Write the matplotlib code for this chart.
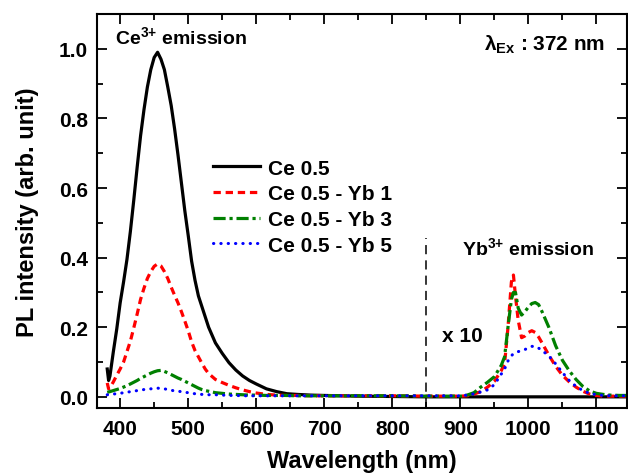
import numpy as np
import matplotlib
matplotlib.use("Agg")
import matplotlib.pyplot as plt
from matplotlib.ticker import MultipleLocator, FormatStrFormatter

plt.rcParams['font.family'] = ['Liberation Sans', 'DejaVu Sans']
plt.rcParams['font.weight'] = 'bold'
plt.rcParams['mathtext.fontset'] = 'custom'
plt.rcParams['mathtext.rm'] = 'Liberation Sans:bold'
plt.rcParams['mathtext.bf'] = 'Liberation Sans:bold'
plt.rcParams['mathtext.it'] = 'Liberation Sans:bold'

# visible part (Ce3+ band), wavelength in nm
wl_vis = [381, 383, 385, 390, 395, 400, 405, 410, 415, 420,
          425, 430, 435, 440, 445, 450, 455, 460, 465, 470,
          475, 480, 485, 490, 495, 500, 505, 510, 515, 520,
          525, 530, 540, 550, 560, 570, 580, 590, 600, 615,
          630, 645, 660, 680, 700, 750, 800, 850, 900]

ce05_vis = [0.08, 0.047, 0.06, 0.13, 0.195, 0.27, 0.33, 0.395, 0.475, 0.565,
            0.66, 0.75, 0.825, 0.89, 0.94, 0.975, 0.99, 0.97, 0.94, 0.89,
            0.837, 0.77, 0.695, 0.615, 0.535, 0.464, 0.39, 0.335, 0.29, 0.26,
            0.23, 0.20, 0.155, 0.125, 0.098, 0.077, 0.06, 0.047, 0.037, 0.023,
            0.015, 0.009, 0.007, 0.005, 0.004, 0.002, 0.001, 0.0, 0.0]

yb1_vis = [0.04, 0.023, 0.026, 0.043, 0.062, 0.08, 0.10, 0.13, 0.16, 0.198,
           0.238, 0.28, 0.312, 0.34, 0.36, 0.375, 0.382, 0.376, 0.36, 0.34,
           0.315, 0.292, 0.27, 0.245, 0.218, 0.19, 0.158, 0.133, 0.115, 0.097,
           0.08, 0.067, 0.05, 0.041, 0.033, 0.026, 0.02, 0.015, 0.011, 0.007,
           0.005, 0.004, 0.004, 0.003, 0.003, 0.003, 0.003, 0.002, 0.002]

yb3_vis = [0.013, 0.014, 0.015, 0.018, 0.021, 0.024, 0.028, 0.032, 0.037, 0.042,
           0.047, 0.053, 0.058, 0.063, 0.068, 0.072, 0.075, 0.076, 0.073, 0.069,
           0.064, 0.059, 0.054, 0.05, 0.045, 0.04, 0.035, 0.03, 0.025, 0.021,
           0.018, 0.016, 0.012, 0.010, 0.008, 0.007, 0.006, 0.005, 0.005, 0.004,
           0.004, 0.004, 0.003, 0.003, 0.003, 0.003, 0.003, 0.002, 0.002]

yb5_vis = [0.006, 0.006, 0.007, 0.008, 0.009, 0.010, 0.012, 0.013, 0.015, 0.016,
           0.018, 0.019, 0.021, 0.022, 0.023, 0.024, 0.025, 0.024, 0.023, 0.021,
           0.019, 0.017, 0.016, 0.015, 0.013, 0.012, 0.010, 0.009, 0.008, 0.007,
           0.007, 0.006, 0.006, 0.005, 0.004, 0.004, 0.003, 0.003, 0.003, 0.003,
           0.003, 0.003, 0.003, 0.003, 0.003, 0.003, 0.003, 0.003, 0.003]

# NIR part (Yb3+ band, shown x10)
wl_nir = [910, 920, 930, 940, 950, 960, 965, 970, 975, 978,
          981, 985, 990, 995, 1000, 1005, 1010, 1015, 1020, 1030,
          1040, 1050, 1060, 1070, 1080, 1090, 1100, 1110, 1120, 1135,
          1150]

ce05_nir = [0.0] * 31

yb1_nir = [0.003, 0.008, 0.015, 0.028, 0.045, 0.075, 0.095, 0.20, 0.33, 0.35,
           0.29, 0.22, 0.17, 0.175, 0.185, 0.19, 0.185, 0.172, 0.155, 0.12,
           0.088, 0.062, 0.043, 0.028, 0.016, 0.008, 0.004, 0.002, 0.002, 0.002,
           0.002]

yb3_nir = [0.005, 0.012, 0.028, 0.042, 0.058, 0.09, 0.115, 0.20, 0.28, 0.30,
           0.30, 0.255, 0.235, 0.245, 0.258, 0.268, 0.271, 0.265, 0.245, 0.20,
           0.147, 0.105, 0.075, 0.05, 0.03, 0.017, 0.01, 0.007, 0.005, 0.004,
           0.004]

yb5_nir = [0.005, 0.009, 0.014, 0.02, 0.035, 0.065, 0.08, 0.103, 0.118, 0.124,
           0.127, 0.13, 0.132, 0.136, 0.141, 0.145, 0.145, 0.14, 0.133, 0.118,
           0.095, 0.07, 0.047, 0.03, 0.018, 0.01, 0.006, 0.004, 0.003, 0.003,
           0.003]

labels = ['Ce 0.5', 'Ce 0.5 - Yb 1', 'Ce 0.5 - Yb 3', 'Ce 0.5 - Yb 5']

wl = wl_vis + wl_nir
series = [ce05_vis + ce05_nir, yb1_vis + yb1_nir, yb3_vis + yb3_nir, yb5_vis + yb5_nir]
styles = [
    dict(color='black', lw=2.3, ls='-'),
    dict(color='red', lw=2.3, ls=(0, (2.3, 1.5))),
    dict(color='green', lw=2.3, ls=(0, (3.8, 1.2, 1.0, 1.2))),
    dict(color='blue', lw=2.2, ls=(0, (0.1, 2.3)), dash_capstyle='round'),
]

fig = plt.figure(figsize=(6.28, 4.77), dpi=100)
ax = fig.add_axes([0.1545, 0.1426, 0.8440, 0.826])

for y, lab, st in zip(series, labels, styles):
    ax.plot(wl, y, label=lab, **st)

# separator between the two bands
ax.plot([850, 850], [-0.03, 0.455], color='black', lw=1.1, ls=(0, (6, 4)))

ax.set_xlim(366, 1145)
ax.set_ylim(-0.032, 1.10)
ax.xaxis.set_major_locator(MultipleLocator(100))
ax.xaxis.set_minor_locator(MultipleLocator(50))
ax.yaxis.set_major_locator(MultipleLocator(0.2))
ax.yaxis.set_minor_locator(MultipleLocator(0.1))
ax.yaxis.set_major_formatter(FormatStrFormatter('%.1f'))
ax.tick_params(which='both', direction='in', top=True, right=True, width=1.3)
ax.tick_params(which='major', length=7, labelsize=15)
ax.tick_params(axis='x', which='major', pad=8)
ax.tick_params(axis='y', which='major', pad=6.5)
ax.tick_params(which='minor', length=4)
for s in ax.spines.values():
    s.set_linewidth(1.5)

ax.set_xlabel('Wavelength (nm)', fontsize=17, fontweight='bold', labelpad=8)
ax.set_ylabel('PL intensity (arb. unit)', fontsize=17, fontweight='bold', labelpad=14)

ax.text(392, 1.035, r'Ce$^{3{+}}$ emission', fontsize=14, fontweight='bold', va='center')
ax.text(1112, 1.014, r'λ$_{\mathbf{Ex}}$ : 372 nm', fontsize=15, fontweight='bold',
        va='center', ha='right')
ax.text(902, 0.43, r'Yb$^{3{+}}$ emission', fontsize=14, fontweight='bold', va='center')
ax.text(873, 0.175, 'x 10', fontsize=15, fontweight='bold', va='center')

ax.legend(loc='upper left', bbox_to_anchor=(0.219, 0.633), frameon=False, fontsize=15,
          handlelength=2.25, handletextpad=0.4, labelspacing=0.32, borderpad=0, borderaxespad=0)

fig.savefig('out.png', dpi=100)
